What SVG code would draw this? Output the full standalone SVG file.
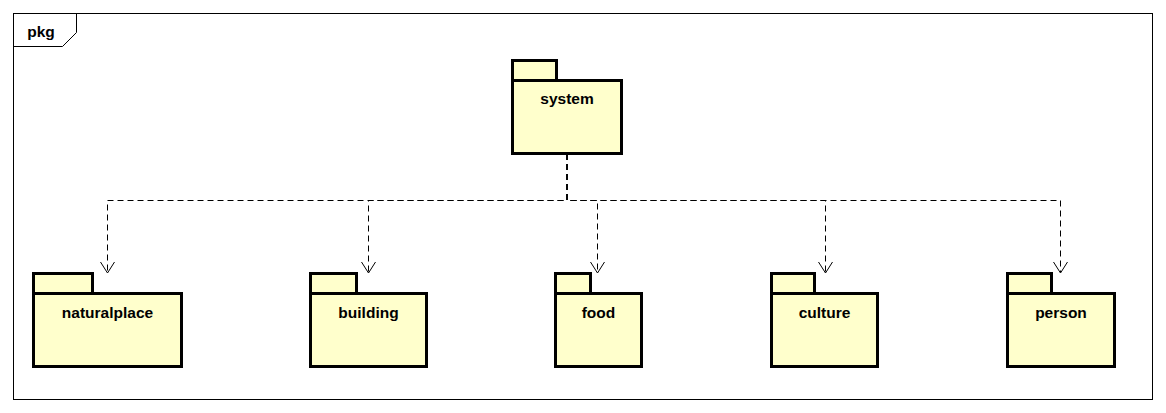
<svg xmlns="http://www.w3.org/2000/svg" width="1166" height="413" viewBox="0 0 1166 413">
<style>
.pk{fill:#FFFFCC;stroke:#000;stroke-width:3}
.t{font-family:"Liberation Sans",Arial,sans-serif;font-weight:bold;font-size:15.5px;text-anchor:middle;fill:#000}
.c{fill:none;stroke:#000;stroke-width:1;stroke-dasharray:6,4}
.ah{fill:none;stroke:#000;stroke-width:1}
</style>
<rect width="1166" height="413" fill="#fff"/>
<g id="frame">
<rect x="13.5" y="13.5" width="1139" height="386" fill="none" stroke="#000" stroke-width="1"/>
<path d="M13.5 46.5 H62.5 L76.5 32.5 V13.5" fill="none" stroke="#000" stroke-width="1"/>
<text x="41" y="37" class="t">pkg</text>
</g>
<g id="connectors">
<path class="c" d="M567 154 V200.5 H107.5 V272"/>
<path class="c" d="M567 154 V200.5 H368.5 V272"/>
<path class="c" d="M567 154 V200.5 H597.5 V272"/>
<path class="c" d="M567 154 V200.5 H825.5 V272"/>
<path class="c" d="M567 154 V200.5 H1060.5 V272"/>
<path class="ah" d="M100.5 262 L107.5 273 L114.5 262"/>
<path class="ah" d="M361.5 262 L368.5 273 L375.5 262"/>
<path class="ah" d="M590.5 262 L597.5 273 L604.5 262"/>
<path class="ah" d="M818.5 262 L825.5 273 L832.5 262"/>
<path class="ah" d="M1053.5 262 L1060.5 273 L1067.5 262"/>
</g>
<g id="system">
<rect class="pk" x="512.5" y="60.5" width="44" height="20"/>
<rect class="pk" x="512.5" y="80.5" width="109" height="73"/>
<text x="567" y="104" class="t">system</text>
</g>
<g id="naturalplace">
<rect class="pk" x="33.5" y="273.5" width="59" height="20"/>
<rect class="pk" x="33.5" y="293.5" width="148" height="73"/>
<text x="107.5" y="318" class="t">naturalplace</text>
</g>
<g id="building">
<rect class="pk" x="310.5" y="273.5" width="46" height="20"/>
<rect class="pk" x="310.5" y="293.5" width="116" height="73"/>
<text x="368.5" y="318" class="t">building</text>
</g>
<g id="food">
<rect class="pk" x="555.5" y="273.5" width="35" height="20"/>
<rect class="pk" x="555.5" y="293.5" width="86" height="73"/>
<text x="598.5" y="318" class="t">food</text>
</g>
<g id="culture">
<rect class="pk" x="771.5" y="273.5" width="43" height="20"/>
<rect class="pk" x="771.5" y="293.5" width="106" height="73"/>
<text x="824.5" y="318" class="t">culture</text>
</g>
<g id="person">
<rect class="pk" x="1007.5" y="273.5" width="44" height="20"/>
<rect class="pk" x="1007.5" y="293.5" width="107" height="73"/>
<text x="1061" y="318" class="t">person</text>
</g>
</svg>
